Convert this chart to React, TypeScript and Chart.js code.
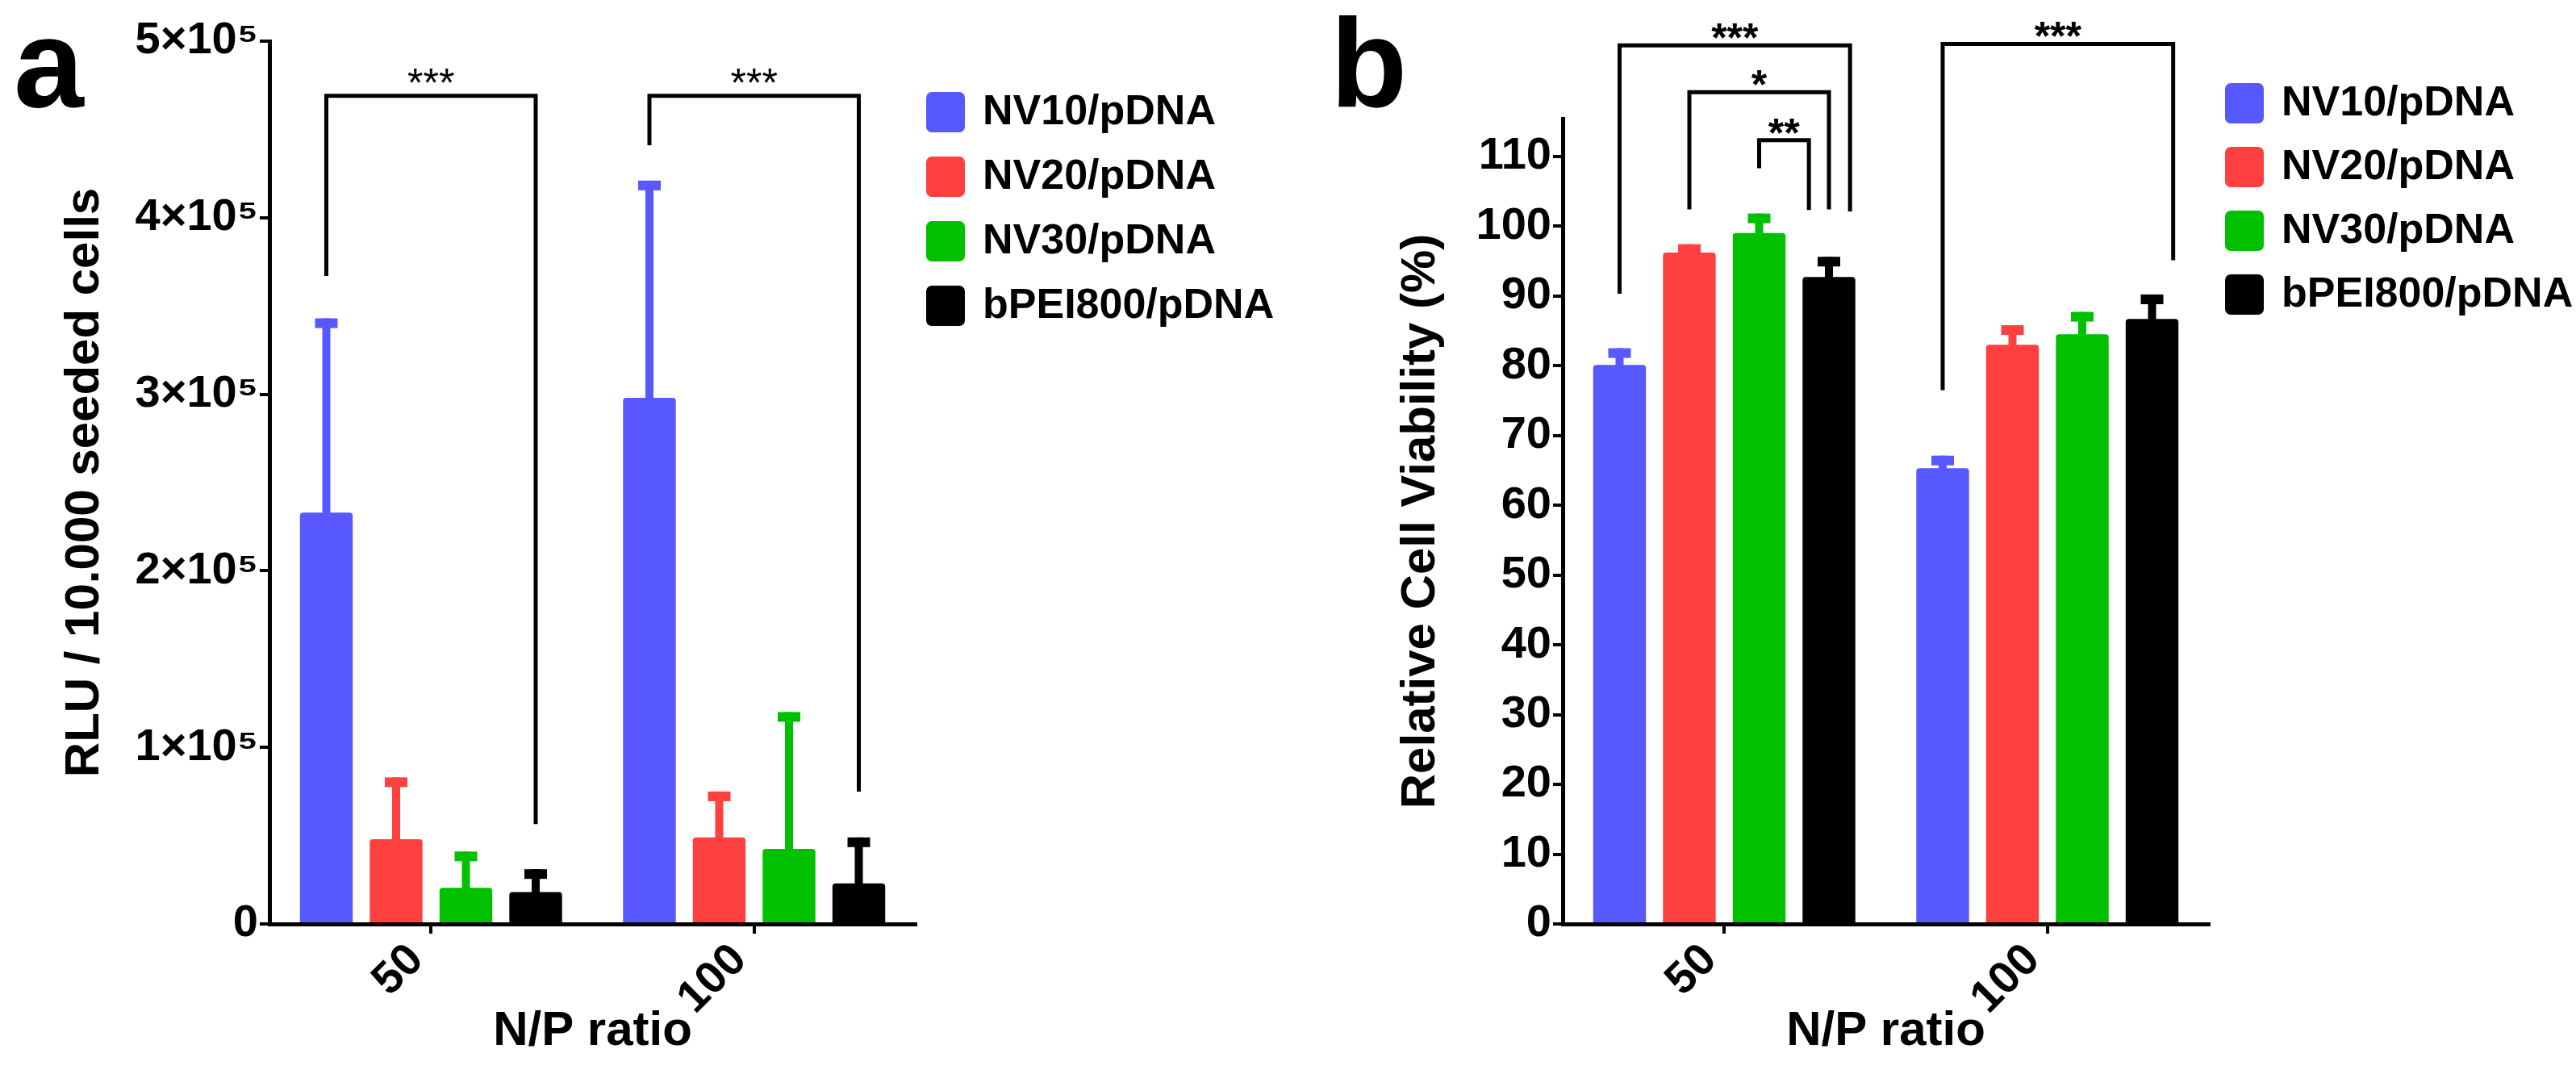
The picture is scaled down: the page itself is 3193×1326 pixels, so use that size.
import { useEffect, useRef } from "react"
import { Chart, registerables } from "chart.js"

Chart.register(...registerables)

const FONT = "'Liberation Sans', Arial, Helvetica, sans-serif"
const HEIGHT = 1326

// shared categories / series
const npRatios = ["50", "100"]
const seriesNames = ["NV10/pDNA", "NV20/pDNA", "NV30/pDNA", "bPEI800/pDNA"]
const seriesColors = ["rgb(88, 88, 255)", "rgb(255, 64, 64)", "rgb(0, 192, 0)", "rgb(0, 0, 0)"]

// panel a: RLU / 10.000 seeded cells (mean and SD)
const rluNV10 = [233000, 298000]
const rluNV20 = [48000, 49000]
const rluNV30 = [20500, 42500]
const rluBPEI = [18000, 23000]
const rluNV10Sd = [110000, 123000]
const rluNV20Sd = [35000, 26000]
const rluNV30Sd = [20500, 77500]
const rluBPEISd = [13000, 26000]
const rluTicks = [0, 100000, 200000, 300000, 400000, 500000]
const rluTickLabels = ["0", "1×10⁵", "2×10⁵", "3×10⁵", "4×10⁵", "5×10⁵"]

// panel b: relative cell viability in % (mean and SD)
const viaNV10 = [80.1, 65.3]
const viaNV20 = [96.2, 83.0]
const viaNV30 = [99.0, 84.5]
const viaBPEI = [92.7, 86.7]
const viaNV10Sd = [2.4, 1.8]
const viaNV20Sd = [1.2, 2.8]
const viaNV30Sd = [2.8, 3.2]
const viaBPEISd = [2.9, 3.5]
const viaTicks = [0, 10, 20, 30, 40, 50, 60, 70, 80, 90, 100, 110]

// significance brackets: [dataset, category, shift in bar widths], heights in axis units
interface Bracket {
    from: [number, number, number]
    to: [number, number, number]
    top: number
    ends: [number, number]
    label: string
}

const rluBrackets: Bracket[] = [
    { from: [0, 0, 0], to: [3, 0, 0], top: 469000, ends: [367000, 56600], label: "***" },
    { from: [0, 1, 0], to: [3, 1, 0], top: 469000, ends: [441000, 75000], label: "***" },
]

const viaBrackets: Bracket[] = [
    { from: [0, 0, 0], to: [3, 0, 0.4], top: 125.9, ends: [90.3, 102.1], label: "***" },
    { from: [1, 0, 0], to: [3, 0, 0], top: 119.2, ends: [102.4, 102.4], label: "*" },
    { from: [2, 0, 0], to: [3, 0, -0.38], top: 112.3, ends: [108.3, 102.3], label: "**" },
    { from: [0, 1, 0], to: [3, 1, 0.4], top: 126.1, ends: [76.5, 95.1], label: "***" },
]

function errorBarPlugin(errors: number[][]) {
    return {
        id: "errorBars",
        afterDatasetsDraw(chart: any) {
            const { ctx } = chart
            const yScale = chart.scales.y
            chart.data.datasets.forEach((ds: any, i: number) => {
                const meta = chart.getDatasetMeta(i)
                meta.data.forEach((bar: any, j: number) => {
                    const top = yScale.getPixelForValue(ds.data[j] + errors[i][j])
                    ctx.save()
                    ctx.fillStyle = ds.backgroundColor
                    ctx.fillRect(bar.x - 5, top, 10, bar.y - top + 2)
                    ctx.fillRect(bar.x - 14, top, 28, 12)
                    ctx.restore()
                })
            })
        },
    }
}

function bracketPlugin(list: Bracket[], labelFont: string, labelLift: number) {
    return {
        id: "brackets",
        afterDraw(chart: any) {
            const { ctx } = chart
            const yScale = chart.scales.y
            const xAt = ([ds, cat, dx]: [number, number, number]) => {
                const bar: any = chart.getDatasetMeta(ds).data[cat]
                return bar.x + dx * bar.width
            }
            ctx.save()
            ctx.strokeStyle = "#000"
            ctx.lineWidth = 5
            ctx.lineJoin = "miter"
            list.forEach((b) => {
                const x1 = xAt(b.from)
                const x2 = xAt(b.to)
                const yTop = yScale.getPixelForValue(b.top)
                ctx.beginPath()
                ctx.moveTo(x1, yScale.getPixelForValue(b.ends[0]))
                ctx.lineTo(x1, yTop)
                ctx.lineTo(x2, yTop)
                ctx.lineTo(x2, yScale.getPixelForValue(b.ends[1]))
                ctx.stroke()
                ctx.fillStyle = "#000"
                ctx.font = labelFont
                ctx.textAlign = "center"
                ctx.textBaseline = "alphabetic"
                ctx.fillText(b.label, (x1 + x2) / 2, yTop + labelLift)
            })
            ctx.restore()
        },
    }
}

// legend to the right of the plot, boxes with rounded corners
function sideLegendPlugin(offsetX: number, top: number, pitch: number) {
    return {
        id: "sideLegend",
        afterDraw(chart: any) {
            const { ctx, chartArea } = chart
            const x = chartArea.right + offsetX
            ctx.save()
            ctx.font = `bold 52px ${FONT}`
            ctx.textBaseline = "middle"
            ctx.textAlign = "left"
            chart.data.datasets.forEach((ds: any, i: number) => {
                const y = top + i * pitch
                ctx.fillStyle = ds.backgroundColor
                ctx.beginPath()
                ctx.roundRect(x, y, 48, 50, 7)
                ctx.fill()
                ctx.fillStyle = "#000"
                ctx.fillText(ds.label, x + 70, y + 26)
            })
            ctx.restore()
        },
    }
}

function panelLetterPlugin(letter: string, x: number) {
    return {
        id: "panelLetter",
        afterDraw(chart: any) {
            const { ctx } = chart
            ctx.save()
            ctx.font = `bold 156px ${FONT}`
            ctx.fillStyle = "#000"
            ctx.textBaseline = "alphabetic"
            ctx.textAlign = "left"
            ctx.fillText(letter, x, 132)
            ctx.restore()
        },
    }
}

function buildConfig(opts: {
    series: number[][]
    errors: number[][]
    ticks: number[]
    tickLabel: (v: number, i: number) => string
    max: number
    yTitle: string
    yTitlePad: number
    axisWidth: number
    padTop: number
    padRight: number
    brackets: Bracket[]
    starFont: string
    starLift: number
    legendDx: number
    legendTop: number
    legendPitch: number
    letter: string
    letterX: number
}): any {
    const tickFont = { family: FONT, size: 56, weight: "bold" as const }
    const titleFont = { family: FONT, size: 60, weight: "bold" as const }
    return {
        type: "bar",
        data: {
            labels: npRatios,
            datasets: opts.series.map((values, i) => ({
                label: seriesNames[i],
                data: values,
                backgroundColor: seriesColors[i],
                borderRadius: 4,
                borderSkipped: "bottom",
                categoryPercentage: 0.864,
                barPercentage: 0.756,
            })),
        },
        options: {
            responsive: false,
            animation: false,
            layout: { padding: { left: 0, top: opts.padTop, right: opts.padRight, bottom: 0 } },
            plugins: { legend: { display: false }, tooltip: { enabled: false } },
            scales: {
                x: {
                    offset: true,
                    grid: {
                        drawOnChartArea: false,
                        offset: false,
                        color: "#000",
                        lineWidth: 4,
                        tickColor: "#000",
                        tickWidth: 4,
                        tickLength: 12,
                    },
                    border: { display: true, color: "#000", width: 5 },
                    ticks: {
                        color: "#000",
                        font: tickFont,
                        minRotation: 45,
                        maxRotation: 45,
                        padding: 0,
                        labelOffset: -18,
                    },
                    title: {
                        display: true,
                        text: "N/P ratio",
                        color: "#000",
                        font: titleFont,
                        padding: { top: 0, bottom: 12 },
                    },
                    afterFit: (axis: any) => {
                        axis.height = HEIGHT - 1145
                    },
                },
                y: {
                    min: 0,
                    max: opts.max,
                    afterBuildTicks: (axis: any) => {
                        axis.ticks = opts.ticks.map((value) => ({ value }))
                    },
                    grid: {
                        drawOnChartArea: false,
                        color: "#000",
                        lineWidth: 4,
                        tickColor: "#000",
                        tickWidth: 4,
                        tickLength: 12,
                    },
                    border: { display: true, color: "#000", width: 5 },
                    ticks: {
                        color: "#000",
                        font: tickFont,
                        padding: 2,
                        autoSkip: false,
                        callback: (v: number, i: number) => opts.tickLabel(v, i),
                    },
                    title: {
                        display: true,
                        text: opts.yTitle,
                        color: "#000",
                        font: titleFont,
                        padding: { top: opts.yTitlePad, bottom: 0 },
                    },
                    afterFit: (axis: any) => {
                        axis.width = opts.axisWidth
                    },
                },
            },
        },
        plugins: [
            errorBarPlugin(opts.errors),
            bracketPlugin(opts.brackets, opts.starFont, opts.starLift),
            sideLegendPlugin(opts.legendDx, opts.legendTop, opts.legendPitch),
            panelLetterPlugin(opts.letter, opts.letterX),
        ],
    }
}

function rluConfig() {
    return buildConfig({
        series: [rluNV10, rluNV20, rluNV30, rluBPEI],
        errors: [rluNV10Sd, rluNV20Sd, rluNV30Sd, rluBPEISd],
        ticks: rluTicks,
        tickLabel: (_v, i) => rluTickLabels[i],
        max: 500000,
        yTitle: "RLU / 10.000 seeded cells",
        yTitlePad: 69,
        axisWidth: 334,
        padTop: 51,
        padRight: 1596 - 1135,
        brackets: rluBrackets,
        starFont: `50px ${FONT}`,
        starLift: 1,
        legendDx: 13,
        legendTop: 114,
        legendPitch: 80,
        letter: "a",
        letterX: 17,
    })
}

function viabilityConfig() {
    return buildConfig({
        series: [viaNV10, viaNV20, viaNV30, viaBPEI],
        errors: [viaNV10Sd, viaNV20Sd, viaNV30Sd, viaBPEISd],
        ticks: viaTicks,
        tickLabel: (v) => String(v),
        max: 115.4,
        yTitle: "Relative Cell Viability (%)",
        yTitlePad: 129,
        axisWidth: 341,
        padTop: 147,
        padRight: 1597 - 1142,
        brackets: viaBrackets,
        starFont: `bold 50px ${FONT}`,
        starLift: 8,
        legendDx: 20,
        legendTop: 103,
        legendPitch: 79,
        letter: "b",
        letterX: 53,
    })
}

function ChartPanel({ build, left, width }: { build: () => any; left: number; width: number }) {
    const canvasRef = useRef<HTMLCanvasElement | null>(null)

    useEffect(() => {
        if (!canvasRef.current) return
        const chart = new Chart(canvasRef.current, build())
        return () => {
            chart.destroy()
        }
    }, [build])

    return (
        <canvas
            ref={canvasRef}
            width={width}
            height={HEIGHT}
            style={{ position: "absolute", left, top: 0, width, height: HEIGHT }}
        />
    )
}

export default function App() {
    return (
        <div style={{ position: "absolute", left: 0, top: 0, width: 3193, height: HEIGHT, background: "#fff" }}>
            <ChartPanel build={rluConfig} left={0} width={1596} />
            <ChartPanel build={viabilityConfig} left={1596} width={1597} />
        </div>
    )
}
